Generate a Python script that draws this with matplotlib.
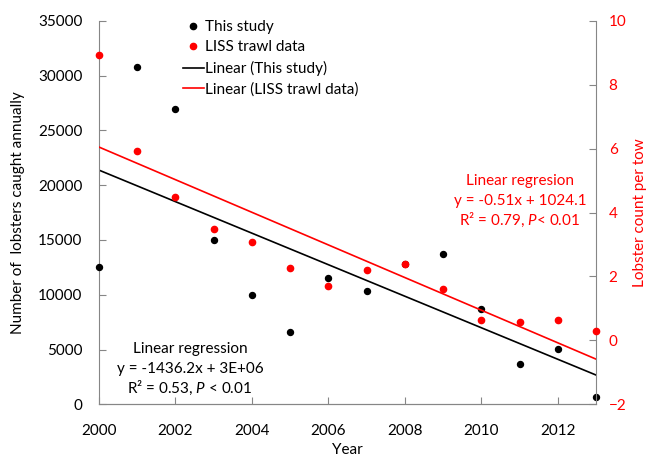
import numpy as np
import matplotlib.pyplot as plt
from matplotlib.lines import Line2D

plt.rcParams['font.family'] = ['Lato', 'DejaVu Sans']
plt.rcParams['mathtext.fontset'] = 'custom'
plt.rcParams['mathtext.rm'] = 'Lato'
plt.rcParams['mathtext.it'] = 'Lato:italic'

# this study: annual catch (2008 point sits behind the red one)
study_years = [2000, 2001, 2002, 2003, 2004, 2005, 2006, 2007, 2008, 2009, 2010, 2011, 2012, 2013]
study_catch = [12500, 30750, 26970, 15020, 9990, 6570, 11500, 10340, 12800, 13690, 8720, 3680, 5020, 670]
# LISS trawl data: count per tow
liss_years = [2000, 2001, 2002, 2003, 2004, 2005, 2006, 2007, 2008, 2009, 2010, 2011, 2012, 2013]
liss_count = [8.93, 5.93, 4.50, 3.47, 3.08, 2.26, 1.70, 2.21, 2.39, 1.61, 0.64, 0.57, 0.63, 0.29]

study_eq = ['Linear regression', 'y = -1436.2x + 3E+06', 'R² = 0.53, $P$ < 0.01']
liss_eq = ['Linear regresion', 'y = -0.51x + 1024.1', 'R² = 0.79, $P$< 0.01']

fs = 11
grey = '#868686'

fig = plt.figure(figsize=(6.48, 4.57), dpi=100)
ax1 = fig.add_axes([0.1528, 0.1153, 0.7672, 0.8394])
ax2 = ax1.twinx()

# trend lines
k1, b1 = np.polyfit(study_years, study_catch, 1)
k2, b2 = np.polyfit(liss_years, liss_count, 1)
xx = np.array([2000, 2013])
ax1.plot(xx, k1 * xx + b1, color='black', lw=1.2, zorder=2)
ax2.plot(xx, k2 * xx + b2, color='red', lw=1.2, zorder=2)

ax1.plot(study_years, study_catch, 'o', color='black', markersize=4.3, zorder=3, clip_on=False)
ax2.plot(liss_years, liss_count, 'o', color='red', markersize=4.5, zorder=3, clip_on=False)

ax1.set_xlim(2000, 2013)
ax1.set_ylim(0, 35000)
ax2.set_ylim(-2, 10)
ax1.set_xticks(np.arange(2000, 2013, 2))
ax1.set_yticks(np.arange(0, 35001, 5000))
ax2.set_yticks(np.arange(-2, 11, 2))

for ax in (ax1, ax2):
    ax.spines['top'].set_visible(False)
    for s in ('left', 'right', 'bottom'):
        ax.spines[s].set_color(grey)
    ax.tick_params(direction='in', length=5, color=grey, labelsize=fs)
ax2.spines['left'].set_visible(False)
ax1.spines['right'].set_visible(False)
ax1.tick_params(axis='x', pad=14)
ax1.tick_params(axis='y', pad=12)
ax2.tick_params(axis='y', labelcolor='red', pad=9)

ax1.set_xlabel('Year', fontsize=fs, labelpad=4)
ax1.set_ylabel('Number of  lobsters caught annually', fontsize=fs, labelpad=9)
ax2.set_ylabel('Lobster count per tow', fontsize=fs, color='red', labelpad=5)

handles = [
    Line2D([], [], ls='', marker='o', color='black', markersize=4.5),
    Line2D([], [], ls='', marker='o', color='red', markersize=4.5),
    Line2D([], [], color='black', lw=1.2),
    Line2D([], [], color='red', lw=1.2),
]
labels = ['This study', 'LISS trawl data', 'Linear (This study)', 'Linear (LISS trawl data)']
fig.legend(handles, labels, loc='upper left', bbox_to_anchor=(183 / 648, 1 - 20 / 457),
           frameon=False, fontsize=fs, handlelength=1.35, handletextpad=0.1,
           labelspacing=0.42, borderaxespad=0, borderpad=0)

# regression annotations, one line at a time
for i, line in enumerate(study_eq):
    fig.text(190 / 648, 1 - (353 + 20 * i) / 457, line, ha='center', va='baseline', fontsize=fs)
for i, line in enumerate(liss_eq):
    fig.text(520 / 648, 1 - (185 + 20 * i) / 457, line, ha='center', va='baseline',
             fontsize=fs, color='red')

fig.savefig('out.png', dpi=100)
